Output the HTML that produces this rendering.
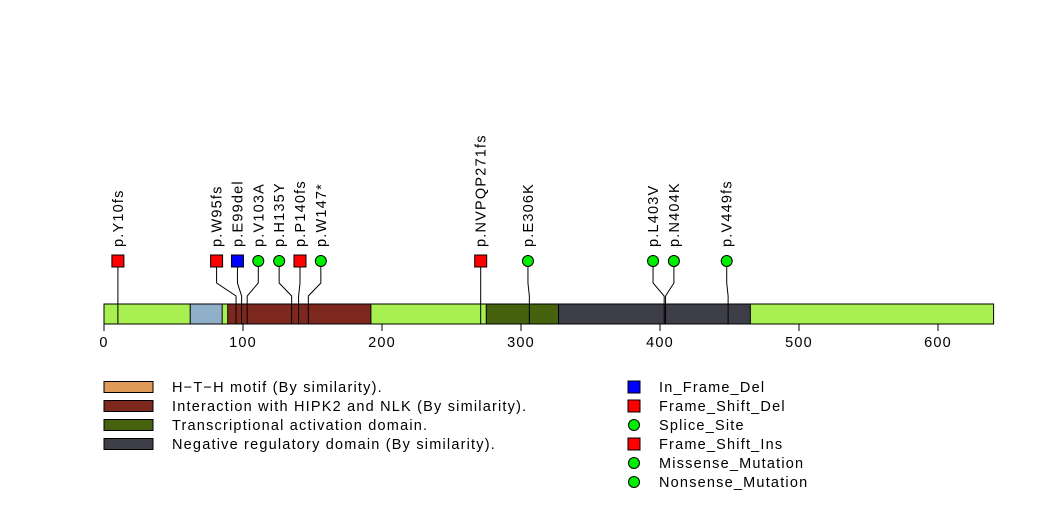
<!DOCTYPE html>
<html><head><meta charset="utf-8">
<style>
html,body{margin:0;padding:0;background:#fff;}
svg{display:block;font-family:"Liberation Sans",Arial,sans-serif;}
svg text{letter-spacing:1.2px;}
</style></head>
<body>
<svg id="chart" width="1047" height="524" viewBox="0 0 1047 524" xmlns="http://www.w3.org/2000/svg">
<g id="domains"></g>
<g id="axis"></g>
<g id="muts"></g>
<g id="legend"></g>
</svg>
<script>
const proteinLength = 640;
const domainStarts = [62, 89, 275, 327];
const domainEnds = [85, 192, 327, 465];
const domainColors = ["#8fb0c8", "#7d281e", "#46620f", "#3e3e48"];
const mutLabels = ["p.Y10fs","p.W95fs","p.E99del","p.V103A","p.H135Y","p.P140fs","p.W147*","p.NVPQP271fs","p.E306K","p.L403V","p.N404K","p.V449fs"];
const mutPositions = [10, 95, 99, 103, 135, 140, 147, 271, 306, 403, 404, 449];
const mutTypes = ["sq-red","sq-red","sq-blue","circle","circle","sq-red","circle","sq-red","circle","circle","circle","circle"];
const mutMarkerPositions = [10, 81, 96, 111, 126, 141, 156, 271, 305, 395, 410, 448];
const ticks = [0, 100, 200, 300, 400, 500, 600];
const domainLegend = ["H\u2212T\u2212H motif (By similarity).","Interaction with HIPK2 and NLK (By similarity).","Transcriptional activation domain.","Negative regulatory domain (By similarity)."];
const domainLegendColors = ["#e09a58","#7d281e","#46620f","#3e3e48"];
const typeLegend = ["In_Frame_Del","Frame_Shift_Del","Splice_Site","Frame_Shift_Ins","Missense_Mutation","Nonsense_Mutation"];
const typeLegendShapes = ["sq-blue","sq-red","circle","sq-red","circle","circle"];

const NS = "http://www.w3.org/2000/svg";
const x = v => 104 + v * 1.39;
function mk(tag, attrs, parent){ const e=document.createElementNS(NS,tag); for(const k in attrs) e.setAttribute(k,attrs[k]); parent.appendChild(e); return e; }
const gD=document.getElementById('domains'), gA=document.getElementById('axis'), gM=document.getElementById('muts'), gL=document.getElementById('legend');
const barTop=304, barH=20;

let bb = mk('rect',{x:x(0),y:barTop,width:x(proteinLength)-x(0),height:barH,fill:'#a8f050',stroke:'#000','stroke-width':1},gD);


domainStarts.forEach((s,i)=>{
  const r=mk('rect',{x:x(s),y:barTop,width:x(domainEnds[i])-x(s),height:barH,fill:domainColors[i],stroke:'#000','stroke-width':1},gD);
  
  
});

mk('line',{x1:x(0),y1:324,x2:x(600),y2:324,stroke:'#000'},gA);
ticks.forEach(t=>{
  const l=mk('line',{x1:x(t),y1:324,x2:x(t),y2:331,stroke:'#000'},gA);
  
  
  const tx=mk('text',{x:x(t),y:347,'text-anchor':'middle','font-size':14.5},gA);
  tx.textContent=t;
  
  
});

function marker(shape,cx,cy,parent){
  if(shape==='circle') return mk('circle',{cx:cx,cy:cy,r:5.5,fill:'#00ee00',stroke:'#000','stroke-width':1},parent);
  return mk('rect',{x:cx-6,y:cy-6,width:12,height:12,fill:shape==='sq-blue'?'#0000ff':'#ff0000',stroke:'#000','stroke-width':1},parent);
}

mutPositions.forEach((p,i)=>{
  const mx=x(mutMarkerPositions[i]), px=x(p);
  const pl=mk('polyline',{points:`${px},${barTop+20} ${px},296 ${mx},283 ${mx},261`,fill:'none',stroke:'#000','stroke-width':1},gM);
  
  
  const m=marker(mutTypes[i],mx,261,gM);
  
  
  const t=mk('text',{x:mx+5,y:247,'font-size':14.5,transform:`rotate(-90 ${mx+5} 247)`},gM);
  t.textContent=mutLabels[i];
  
  
});

domainLegend.forEach((s,i)=>{
  const cy=387+i*19;
  const r=mk('rect',{x:104,y:cy-5.5,width:49,height:11,fill:domainLegendColors[i],stroke:'#000','stroke-width':1},gL);
  
  
  const t=mk('text',{x:172,y:cy+5,'font-size':14.5},gL);
  t.textContent=s;
  
  
});
typeLegend.forEach((s,i)=>{
  const cy=387+i*19;
  const m=marker(typeLegendShapes[i],634,cy,gL);
  
  
  const t=mk('text',{x:659,y:cy+5,'font-size':14.5},gL);
  t.textContent=s;
  
  
});
</script>
</body></html>
